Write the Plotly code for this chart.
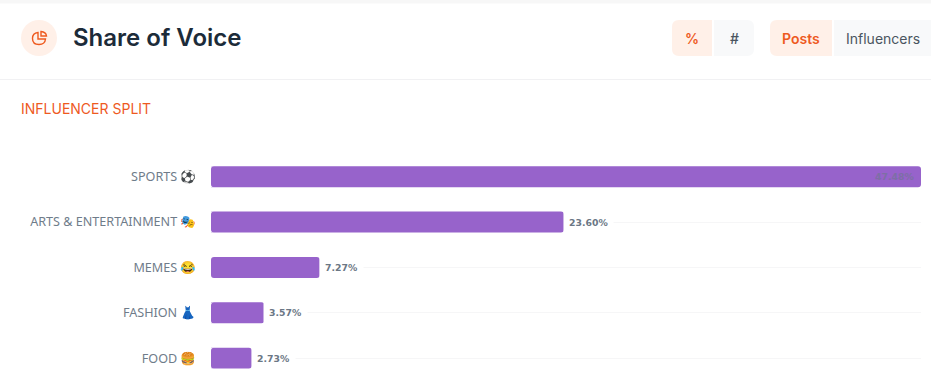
import plotly.graph_objects as go

categories = ["SPORTS ⚽", "ARTS & ENTERTAINMENT 🎭", "MEMES 😂", "FASHION 👗", "FOOD 🍔"]
values = [47.48, 23.60, 7.27, 3.57, 2.73]
value_labels = ["47.48%", "23.60%", "7.27%", "3.57%", "2.73%"]

W, H = 931, 379
L, R, T, B = 211, 10, 154, 0
PW, PH = W - L - R, H - T - B
BAND = 45.4
BAR = 21
px = lambda x: (x - L) / PW
py = lambda y: 1 - (y - T) / PH

ORANGE = "#ee5a1f"
ACTIVE = "#fff0e8"
IDLE = "#f8f9fa"


def path(*pts_cmds):
    out = []
    for c in pts_cmds:
        if isinstance(c, str):
            out.append(c)
        else:
            out.append(f"{px(c[0]):.5f},{py(c[1]):.5f}")
    return " ".join(out)


def btn(x0, x1, y0, y1, r_left, r_right, fill):
    return dict(
        type="path", xref="paper", yref="paper", fillcolor=fill, line_width=0, layer="below",
        path=path("M", (x0 + r_left, y0), "L", (x1 - r_right, y0), "Q", (x1, y0), (x1, y0 + r_right),
                  "L", (x1, y1 - r_right), "Q", (x1, y1), (x1 - r_right, y1),
                  "L", (x0 + r_left, y1), "Q", (x0, y1), (x0, y1 - r_left),
                  "L", (x0, y0 + r_left), "Q", (x0, y0), (x0 + r_left, y0), "Z"),
    )


shapes = [
    dict(type="rect", xref="paper", yref="paper", x0=px(0), x1=px(W), y0=py(0), y1=py(3.5),
         fillcolor="#f7f7f7", line_width=0, layer="below"),
    dict(type="line", xref="paper", yref="paper", x0=px(0), x1=px(W), y0=py(79.5), y1=py(79.5),
         line=dict(color="#f1f1f3", width=1), layer="below"),
    dict(type="circle", xref="paper", yref="paper", x0=px(21), x1=px(57), y0=py(20), y1=py(56),
         fillcolor=ACTIVE, line_width=0, layer="below"),
    dict(type="path", xref="paper", yref="paper", line=dict(color=ORANGE, width=1.4), layer="above",
         path=path("M", (38, 32.5), "Q", (32.5, 33), (32.5, 38.5), "Q", (32.5, 44.5), (39, 44.5),
                   "Q", (45, 44.5), (45.5, 39), "L", (38, 39), "Z")),
    dict(type="path", xref="paper", yref="paper", line=dict(color=ORANGE, width=1.4), layer="above",
         path=path("M", (41, 31.5), "Q", (46, 32), (46.5, 36), "L", (41, 36), "Z")),
    btn(672, 712, 20, 56, 7, 0, ACTIVE),
    btn(714, 754, 20, 56, 0, 7, IDLE),
    btn(770, 832, 20, 56, 7, 0, ACTIVE),
    btn(834, 940, 20, 56, 0, 0, IDLE),
]

# Round the start of each bar (plotly only rounds the far end).
for i in range(len(categories)):
    top = T + BAND * (i + 0.5) - BAR / 2
    bot = top + BAR
    r = 3
    shapes.append(dict(type="path", xref="paper", yref="paper", fillcolor="#ffffff", line_width=0, layer="above",
                       path=path("M", (L, top), "L", (L + r, top), "Q", (L, top), (L, top + r), "Z")))
    shapes.append(dict(type="path", xref="paper", yref="paper", fillcolor="#ffffff", line_width=0, layer="above",
                       path=path("M", (L, bot), "L", (L + r, bot), "Q", (L, bot), (L, bot - r), "Z")))


def label(x, y, text, size, color, anchor="left", family="Inter", weight=400):
    return dict(xref="paper", yref="paper", x=px(x), y=py(y), text=text, showarrow=False,
                xanchor=anchor, yanchor="middle", font=dict(family=family, size=size, color=color, weight=weight))


annotations = [
    label(71, 37.5, "Share of Voice", 24, "#1c2b39", weight=600),
    label(692, 38, "%", 14, ORANGE, "center", weight=600),
    label(734, 38, "#", 14, "#4a5560", "center", weight=500),
    label(801, 38, "Posts", 14, ORANGE, "center", weight=600),
    label(883, 38, "Influencers", 14, "#4a5560", "center", weight=400),
    label(19, 108, "INFLUENCER SPLIT", 14, ORANGE),
]

for i, (c, v, t) in enumerate(zip(categories, values, value_labels)):
    inside = i == 0
    annotations.append(dict(
        x=v, y=c, xref="x", yref="y", text=t, showarrow=False,
        xanchor="right" if inside else "left", yanchor="middle",
        xshift=-1 if inside else -1, yshift=0,
        borderpad=5, bgcolor=None if inside else "#ffffff",
        font=dict(family="DejaVu Sans", size=9.3, color="#7d6fa5" if inside else "#6b7785", weight=700),
    ))

fig = go.Figure(go.Bar(
    x=values, y=categories, orientation="h",
    marker=dict(color="#9763cb", cornerradius=3, line_width=0),
    width=BAR / BAND, hoverinfo="skip",
))
fig.update_layout(
    width=W, height=H, autosize=False,
    margin=dict(l=L, r=R, t=T, b=B, pad=0),
    paper_bgcolor="#ffffff", plot_bgcolor="#ffffff",
    shapes=shapes, annotations=annotations, showlegend=False,
)
fig.update_xaxes(range=[0, 47.48], visible=False, fixedrange=True)
fig.update_yaxes(
    range=[4.46, -0.5], showline=False, zeroline=False, showgrid=True, gridcolor="#f6f6f7", gridwidth=1,
    ticks="outside", ticklen=11, tickcolor="rgba(0,0,0,0)",
    tickfont=dict(family="Noto Sans", size=12.6, color="#6f7c8a"),
)
fig.write_html(
    "out.html",
    config=dict(displayModeBar=False),
    post_script="document.body.style.margin='0';document.documentElement.style.overflow='hidden';",
)
